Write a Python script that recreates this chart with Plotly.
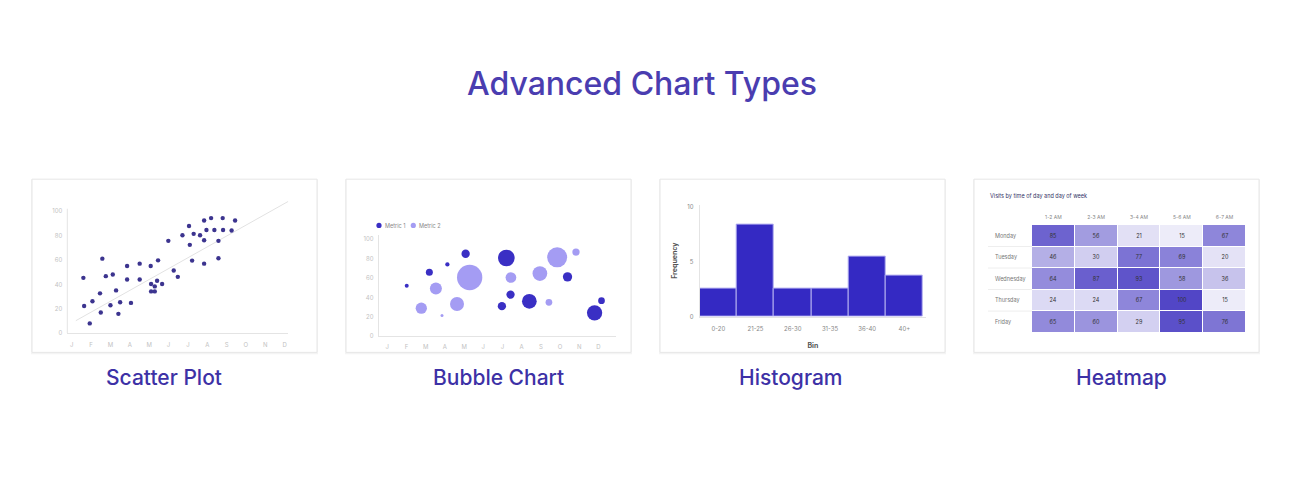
import plotly.graph_objects as go

W, H = 1290, 490
def px(x): return x / W
def py(y): return 1 - y / H

# ---------------- data ----------------
months = ["J", "F", "M", "A", "M", "J", "J", "A", "S", "O", "N", "D"]
month_pos = list(range(12))

scatter_x = [0.60, 0.64, 0.93, 1.07, 1.58, 1.46, 1.50, 1.76, 2.00, 2.12, 2.29, 2.41, 2.50, 2.86,
             2.86, 3.06, 3.51, 3.51, 4.08, 4.10, 4.10, 4.29, 4.29, 4.41, 4.46, 4.67, 4.99, 5.27,
             5.48, 5.72, 6.06, 6.10, 6.22, 6.30, 6.63, 6.84, 6.84, 6.84, 6.96, 7.20, 7.37, 7.58,
             7.58, 7.80, 7.82, 8.26, 8.44]
scatter_y = [45.4, 22.4, 8.1, 26.2, 61.1, 32.7, 17.0, 46.8, 23.0, 48.1, 35.1, 15.9, 25.4, 55.1,
             44.1, 24.9, 57.0, 44.1, 55.1, 40.3, 34.3, 38.4, 34.3, 43.0, 59.7, 40.3, 75.7, 51.4,
             46.2, 80.3, 87.8, 72.4, 59.5, 81.4, 80.3, 92.4, 76.2, 57.0, 84.6, 94.3, 84.6, 75.7,
             61.4, 94.3, 84.6, 84.1, 92.4]
trend_x = [0.21, 11.19]
trend_y = [10.3, 108.0]

m1_x = [1.01, 2.19, 3.13, 4.08, 6.20, 5.97, 6.42, 7.40, 9.39, 10.80, 11.16]
m1_y = [52, 66, 74, 85, 80.6, 31, 42.9, 36, 61.2, 24.1, 36.7]
m1_s = [4, 7, 4.3, 8.3, 16.7, 8.3, 8.3, 14.7, 9.3, 15.3, 6.7]
m2_x = [1.77, 2.53, 2.85, 3.63, 4.29, 6.44, 7.95, 8.42, 8.85, 9.83]
m2_y = [28.9, 49.3, 21.4, 33.3, 60.5, 60.5, 64.6, 35, 81.3, 86.7]
m2_s = [11.3, 12, 3, 14, 25.3, 10.7, 14.7, 6.7, 20, 7.3]

bins = ["0-20", "21-25", "26-30", "31-35", "36-40", "40+"]
freq = [2.6, 8.4, 2.6, 2.6, 5.5, 3.7]

hours = ["1-2 AM", "2-3 AM", "3-4 AM", "5-6 AM", "6-7 AM"]
days = ["Monday", "Tuesday", "Wednesday", "Thursday", "Friday"]
visits = [
    [85, 56, 21, 15, 67],
    [46, 30, 77, 69, 20],
    [64, 87, 93, 58, 36],
    [24, 24, 67, 100, 15],
    [65, 60, 29, 95, 76],
]

section_title = "Advanced Chart Types"
card_titles = ["Scatter Plot", "Bubble Chart", "Histogram", "Heatmap"]

# ---------------- styles ----------------
TITLE_C = "#4a3db0"
LABEL_C = "#3d31a6"
TICK_LIGHT = "#c2c2c2"
AXIS_LINE = "#e4e4e4"
FONT = "Inter"

fig = go.Figure()

# Scatter
fig.add_trace(go.Scatter(x=trend_x, y=trend_y, mode="lines",
                         line=dict(color="#e2e2e2", width=1), xaxis="x", yaxis="y",
                         hoverinfo="skip"))
fig.add_trace(go.Scatter(x=scatter_x, y=scatter_y, mode="markers",
                         marker=dict(color="#3c348f", size=4.4, opacity=1), xaxis="x", yaxis="y"))

# Bubble
fig.add_trace(go.Scatter(x=m2_x, y=m2_y, mode="markers", name="Metric 2",
                         marker=dict(color="#a49cf3", size=m2_s, sizemode="diameter", opacity=1,
                                     line=dict(width=0)),
                         xaxis="x2", yaxis="y2"))
fig.add_trace(go.Scatter(x=m1_x, y=m1_y, mode="markers", name="Metric 1",
                         marker=dict(color="#3a2fc4", size=m1_s, sizemode="diameter", opacity=1,
                                     line=dict(width=0)),
                         xaxis="x2", yaxis="y2"))

# Histogram
fig.add_trace(go.Bar(x=bins, y=freq, marker=dict(color="#3429c3", line=dict(color="#b3aef0", width=1)),
                     xaxis="x3", yaxis="y3"))

# Heatmap
fig.add_trace(go.Heatmap(z=visits, x=hours, y=days, xaxis="x4", yaxis="y4",
                         colorscale=[[0, "#ffffff"], [1, "#5246c6"]], zmin=5, zmax=100,
                         showscale=False, xgap=1, ygap=1,
                         texttemplate="%{z}", textfont=dict(size=5.5, color="#333333", family=FONT)))

tickfont = dict(size=6, color=TICK_LIGHT, family=FONT)

layout = dict(
    width=W, height=H, margin=dict(l=0, r=0, t=0, b=0),
    paper_bgcolor="white", plot_bgcolor="rgba(0,0,0,0)", showlegend=False,
    font=dict(family=FONT),
    bargap=0,
    # scatter
    xaxis=dict(domain=[px(67.3), px(288.3)], range=[-0.23, 11.19], tickvals=month_pos, ticktext=months,
               showgrid=False, zeroline=False, showline=True, linecolor=AXIS_LINE, linewidth=1,
               tickfont=tickfont, ticks="", anchor="y", ticklabelstandoff=6),
    yaxis=dict(domain=[py(334.7), py(200.2)], range=[0, 109], tickvals=[0, 20, 40, 60, 80, 100],
               showgrid=False, zeroline=False, showline=False, tickfont=tickfont, ticks="",
               anchor="x", ticklabelstandoff=4),
    # bubble
    xaxis2=dict(domain=[px(378.7), px(615.7)], range=[-0.45, 11.9], tickvals=month_pos, ticktext=months,
                showgrid=False, zeroline=False, showline=True, linecolor=AXIS_LINE, linewidth=1,
                tickfont=tickfont, ticks="", anchor="y2", ticklabelstandoff=5),
    yaxis2=dict(domain=[py(337.7), py(235.3)], range=[0, 104.4], tickvals=[0, 20, 40, 60, 80, 100],
                showgrid=False, zeroline=False, showline=True, linecolor=AXIS_LINE, linewidth=1,
                tickfont=tickfont, ticks="", anchor="x2", ticklabelstandoff=3),
    # histogram
    xaxis3=dict(domain=[px(699.7), px(926)], range=[-0.5, 5.58], type="category",
                showgrid=False, zeroline=False, showline=True, linecolor=AXIS_LINE, linewidth=1,
                tickfont=dict(size=6, color="#888888", family=FONT), ticks="", anchor="y3",
                ticklabelstandoff=6,
                title=dict(text="<b>Bin</b>", font=dict(size=7, color="#555555", family=FONT), standoff=12)),
    yaxis3=dict(domain=[py(318), py(204.7)], range=[0, 10.18], tickvals=[0, 5, 10],
                showgrid=False, zeroline=False, showline=True, linecolor=AXIS_LINE, linewidth=1,
                tickfont=dict(size=6, color="#888888", family=FONT), ticks="", anchor="x3",
                ticklabelstandoff=4,
                title=dict(text="<b>Frequency</b>", font=dict(size=7, color="#555555", family=FONT), standoff=8)),
    # heatmap
    xaxis4=dict(domain=[px(1032), px(1246)], side="top", showgrid=False, zeroline=False, showline=False,
                tickfont=dict(size=5, color="#888888", family=FONT), ticks="", anchor="y4",
                ticklabelstandoff=4),
    yaxis4=dict(domain=[py(334), py(225.3)], autorange="reversed", showgrid=False, zeroline=False,
                showline=False, showticklabels=False, anchor="x4"),
)

shapes = []
annotations = []

cards = [(32, 179, 317, 354), (346, 179, 631, 354), (660, 179, 945, 354), (974, 179, 1259, 354)]
for (x0, y0, x1, y1) in cards:
    shapes.append(dict(type="rect", xref="paper", yref="paper", x0=px(x0 - 1), x1=px(x1 + 1),
                       y0=py(y1 + 2), y1=py(y0), fillcolor="#f4f4f4", line=dict(width=0), layer="below"))
    shapes.append(dict(type="rect", xref="paper", yref="paper", x0=px(x0), x1=px(x1),
                       y0=py(y1), y1=py(y0), fillcolor="white", line=dict(color="#e6e6e6", width=1),
                       layer="below"))

# scatter y axis line
shapes.append(dict(type="line", xref="x domain", yref="y", x0=0, x1=0, y0=0, y1=102,
                   line=dict(color=AXIS_LINE, width=1), layer="below"))

# heatmap row separators in the label column
for b in [0.5, 1.5, 2.5, 3.5]:
    shapes.append(dict(type="line", xref="paper", yref="y4", x0=px(988), x1=px(1032), y0=b, y1=b,
                       line=dict(color="#eeeeee", width=1), layer="below"))

# heatmap row labels
for d in days:
    annotations.append(dict(text=d, xref="paper", yref="y4", x=px(993), y=d, xanchor="left",
                            yanchor="middle", showarrow=False,
                            font=dict(size=5.5, color="#777777", family=FONT)))
annotations.append(dict(text="Visits by time of day and day of week", xref="paper", yref="paper",
                        x=px(988), y=py(195.5), xanchor="left", yanchor="middle", showarrow=False,
                        font=dict(size=5.5, color="#333366", family=FONT)))

# bubble legend (manual)
for (lx, name, col) in [(379, "Metric 1", "#3a2fc4"), (413.3, "Metric 2", "#a49cf3")]:
    shapes.append(dict(type="circle", xref="paper", yref="paper", x0=px(lx - 2.6), x1=px(lx + 2.6),
                       y0=py(225.7 + 2.6), y1=py(225.7 - 2.6), fillcolor=col, line=dict(width=0)))
    annotations.append(dict(text=name, xref="paper", yref="paper", x=px(lx + 4), y=py(225.7),
                            xanchor="left", yanchor="middle", showarrow=False,
                            font=dict(size=5.5, color="#888888", family=FONT)))

# main title
annotations.append(dict(text=section_title, xref="paper", yref="paper", x=px(642), y=py(82),
                        xanchor="center", yanchor="middle", showarrow=False,
                        font=dict(size=32, color=TITLE_C, family=FONT, weight=500)))
for t, cx in zip(card_titles, [164, 498, 790, 1121]):
    annotations.append(dict(text=t, xref="paper", yref="paper", x=px(cx), y=py(379),
                            xanchor="center", yanchor="middle", showarrow=False,
                            font=dict(size=21, color=LABEL_C, family=FONT, weight=500)))

layout["shapes"] = shapes
layout["annotations"] = annotations
fig.update_layout(**layout)
fig.write_html("out.html")
